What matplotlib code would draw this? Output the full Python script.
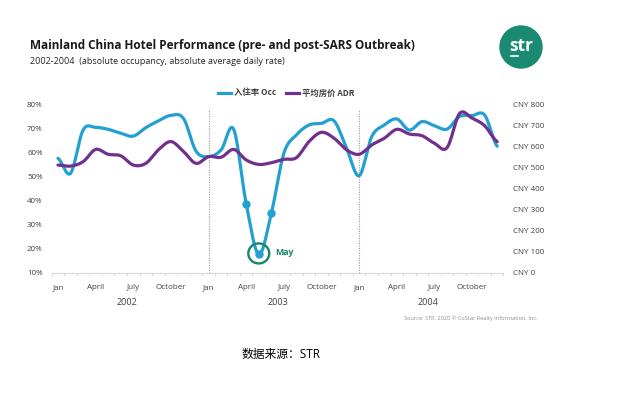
import numpy as np
import matplotlib
matplotlib.use("Agg")
import matplotlib.pyplot as plt
from matplotlib.patches import Circle, Ellipse
from matplotlib.lines import Line2D

# ---------------- data ----------------
months = ["Jan", "Feb", "Mar", "April", "May", "Jun",
          "July", "Aug", "Sep", "October", "Nov", "Dec"] * 3
years = ["2002", "2003", "2004"]
occ = [57.5, 51.3, 69.2, 70.3, 69.5, 67.9, 66.7, 70.2, 73.0, 75.3, 74.0, 60.5,
       58.2, 61.0, 69.5, 38.6, 17.7, 34.7, 59.6, 67.2, 71.3, 72.0, 73.0, 61.6,
       50.3, 66.5, 71.3, 73.8, 69.2, 72.7, 71.0, 69.6, 74.8, 75.2, 75.4, 62.5]
adr = [511, 506, 527, 585, 562, 555, 511, 519, 583, 622, 575, 519,
       551, 548, 585, 535, 514, 522, 538, 546, 622, 666, 638, 583,
       562, 606, 638, 680, 658, 650, 614, 593, 755, 733, 697, 622]
tick_months = ["Jan", "April", "July", "October"]
occ_ticks = [10, 20, 30, 40, 50, 60, 70, 80]
adr_ticks = [0, 100, 200, 300, 400, 500, 600, 700, 800]
marker_idx = [15, 16, 17]   # April, May, June 2003
may_idx = 16

BLUE = "#23A0D2"
PURPLE = "#71308D"
GREEN = "#17876A"
GREY_TXT = "#404040"

FONT = ["Open Sans", "DejaVu Sans"]
CJK = ["Noto Sans CJK SC", "DejaVu Sans"]
plt.rcParams["font.family"] = FONT


def smooth(x, y, n=24):
    x = np.asarray(x, float)
    y = np.asarray(y, float)
    xs, ys = [], []
    for i in range(len(y) - 1):
        p0 = y[i - 1] if i > 0 else y[i]
        p1, p2 = y[i], y[i + 1]
        p3 = y[i + 2] if i + 2 < len(y) else y[i + 1]
        t = np.linspace(0, 1, n, endpoint=False)
        yy = 0.5 * (2 * p1 + (-p0 + p2) * t + (2 * p0 - 5 * p1 + 4 * p2 - p3) * t ** 2
                    + (-p0 + 3 * p1 - 3 * p2 + p3) * t ** 3)
        xs.append(x[i] + t * (x[i + 1] - x[i]))
        ys.append(yy)
    xs.append([x[-1]])
    ys.append([y[-1]])
    return np.concatenate(xs), np.concatenate(ys)


fig = plt.figure(figsize=(6.44, 3.95), dpi=100)
ax = fig.add_axes([0.0803, 0.3089, 0.7015, 0.4278])
ax2 = ax.twinx()

x = np.arange(len(occ))
sx, sy = smooth(x, occ)
ax.plot(sx, sy, color=BLUE, lw=2.3, solid_capstyle="round", zorder=3)
ax.plot(x[marker_idx], np.array(occ)[marker_idx], "o", color=BLUE, ms=5, zorder=4)

ax2x, ax2y = smooth(x, adr)
ax2.plot(ax2x, ax2y, color=PURPLE, lw=2.3, solid_capstyle="round", zorder=3)

ax.set_xlim(-0.5, len(occ) - 0.5)
ax.set_ylim(10, 80)
ax2.set_ylim(0, 800)

# vertical year separators
for xv in [12, 24]:
    ax.plot([xv, xv], [10, 78], color="#9a9a9a", lw=0.8, ls=(0, (1, 1.2)), zorder=1)

# ticks
maj = [i for i, m in enumerate(months) if m in tick_months]
ax.set_xticks(maj)
ax.set_xticklabels([months[i] for i in maj], fontsize=5.8, color=GREY_TXT)
ax.set_xticks(np.arange(-0.5, len(occ), 1), minor=True)
ax.tick_params(axis="x", which="major", length=0, pad=8)
ax.tick_params(axis="x", which="minor", length=2, color="#d9d9d9", width=0.6)

ax.set_yticks(occ_ticks)
ax.set_yticklabels([f"{v}%" for v in occ_ticks], fontsize=5.8, color=GREY_TXT)
ax.tick_params(axis="y", length=0, pad=6.5)
ax2.set_yticks(adr_ticks)
ax2.set_yticklabels([f"CNY {v}" for v in adr_ticks], fontsize=5.8, color=GREY_TXT)
ax2.tick_params(axis="y", length=0, pad=6.5)

for a in (ax, ax2):
    for s in ["top", "left", "right"]:
        a.spines[s].set_visible(False)
    a.spines["bottom"].set_color("#d9d9d9")
    a.spines["bottom"].set_linewidth(0.8)
ax2.spines["bottom"].set_visible(False)

# May highlight
ax.add_patch(Ellipse((may_idx, occ[may_idx] + 0.4), width=1.67, height=8.3, fill=False,
                     ec=GREEN, lw=1.7, zorder=5))
ax.text(may_idx + 1.35, occ[may_idx] + 0.6, "May", color=GREEN, fontsize=6.3,
        fontweight="bold", va="center", ha="left")

# year labels
for i, yr in enumerate(years):
    xc = 5.5 + 12 * i
    ax.annotate(yr, xy=(xc, 10), xycoords="data", xytext=(0, -21),
                textcoords="offset points", ha="center", va="center",
                fontsize=6.5, color=GREY_TXT)

# legend
h1 = Line2D([], [], color=BLUE, lw=2.3)
h2 = Line2D([], [], color=PURPLE, lw=2.3)
leg = fig.legend([h1, h2], ["入住率 Occ", "平均房价 ADR"], loc="center",
                 bbox_to_anchor=(286 / 644, 1 - 93 / 395), ncol=2, frameon=False,
                 prop={"family": CJK, "size": 6, "weight": "bold"},
                 handlelength=1.6, handletextpad=0.3, columnspacing=1.2)
for t in leg.get_texts():
    t.set_color(GREY_TXT)

# titles
fig.text(30 / 644, 1 - 46 / 395, "Mainland China Hotel Performance (pre- and post-SARS Outbreak)",
         fontsize=8.45, fontweight="bold", color="#1a1a1a", va="center", ha="left")
fig.text(30 / 644, 1 - 62 / 395, "2002-2004  (absolute occupancy, absolute average daily rate)",
         fontsize=6.5, color="#262626", va="center", ha="left")

# logo
lax = fig.add_axes([0, 0, 1, 1], facecolor="none")
lax.set_xlim(0, 644)
lax.set_ylim(395, 0)
lax.axis("off")
lax.add_patch(Circle((521, 47), 21, color="#1A8A72", zorder=1))
lax.text(521, 46, "str", color="white", fontsize=12.5, fontweight="bold",
         ha="center", va="center", zorder=2)
lax.plot([511.5, 518], [55.5, 55.5], color="white", lw=1.2, zorder=2)

fig.text(471 / 644, 1 - 318 / 395, "Source: STR. 2020 © CoStar Realty Information, Inc.",
         fontsize=4.1, color="#8c8c8c", ha="center", va="center")
fig.text(242 / 644, 1 - 354 / 395, "数据来源：STR", fontsize=8.5, color="black",
         family=["Open Sans", "Noto Sans CJK SC"], ha="left", va="center")

fig.savefig("out.png", dpi=100)
